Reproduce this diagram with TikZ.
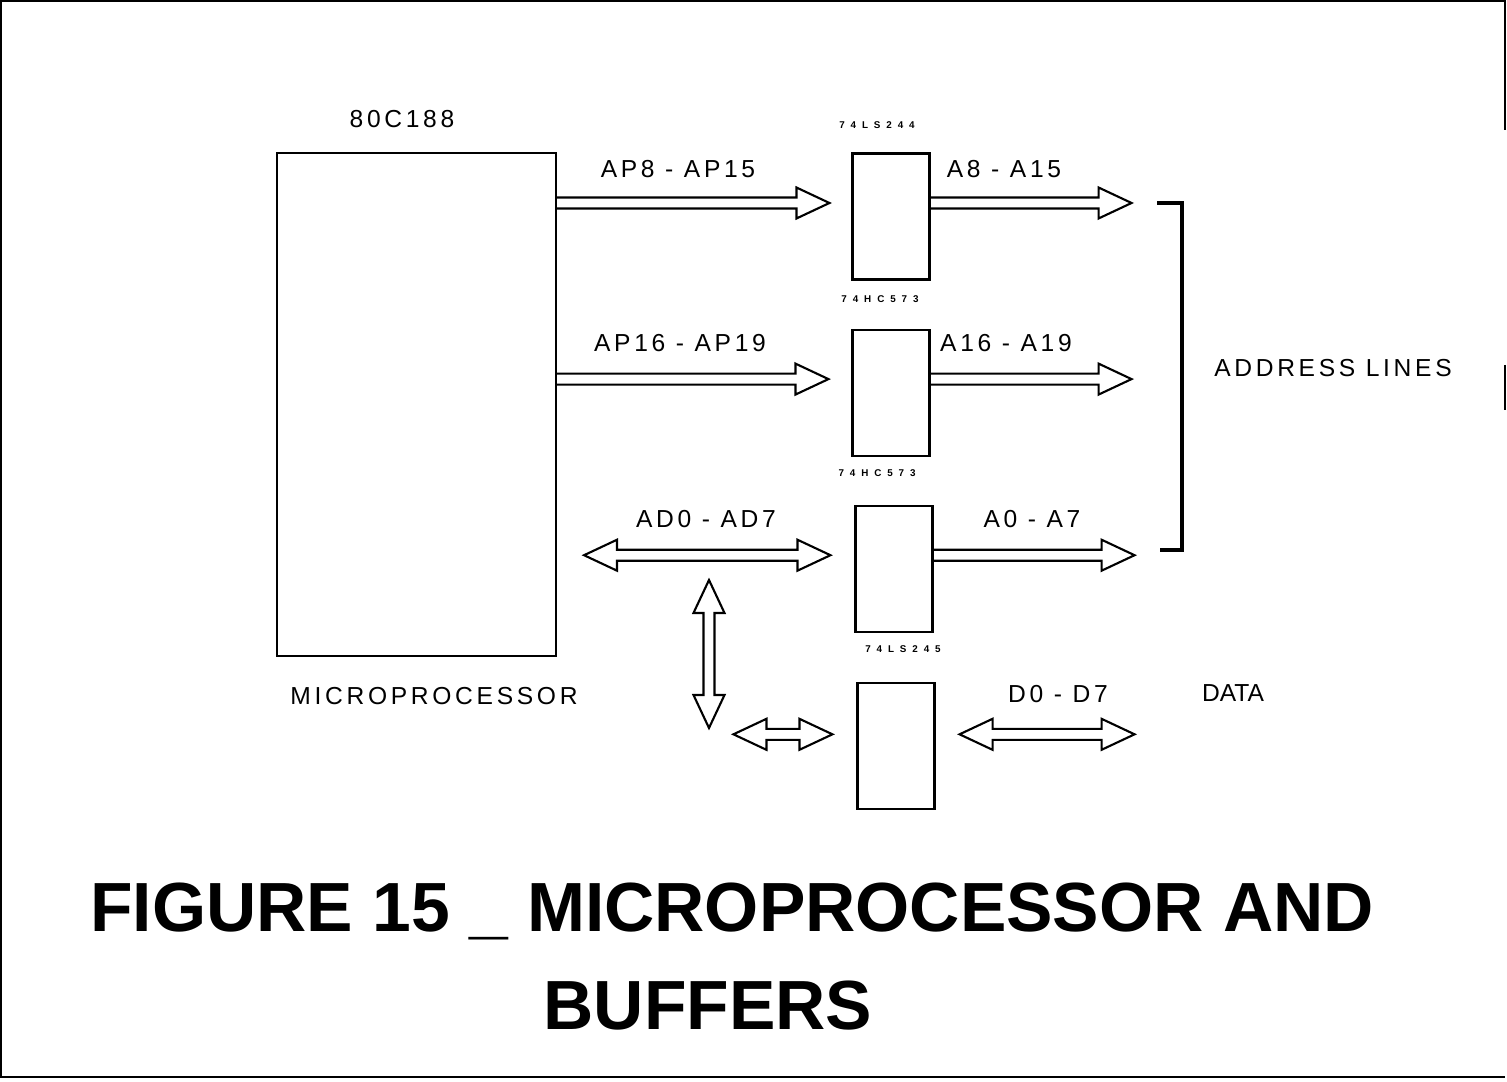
\documentclass[tikz,border=0pt]{standalone}
\usepackage{fontspec}
\setmainfont{Liberation Sans}
\newfontfamily\lblfont[LetterSpace=15]{Liberation Sans}
\newfontfamily\chipfont[LetterSpace=60]{Liberation Sans}
\usetikzlibrary{positioning, calc}

\begin{document}
\begin{tikzpicture}[
    x=0.1mm, y=-0.1mm,
    line width=0.6pt,
    every node/.style={inner sep=0pt},
    block/.style={rectangle, draw, minimum width=27.9mm, minimum height=50.3mm},
    buffer/.style={rectangle, draw, minimum width=7.7mm, minimum height=12.6mm},
    chip/.style={font=\chipfont\bfseries\fontsize{2.8}{3}\selectfont, anchor=base},
    lbl/.style={font=\lblfont\fontsize{7}{8}\selectfont, anchor=base},
    title/.style={font=\bfseries\fontsize{19.8}{24}\selectfont, anchor=base},
    bracket/.style={line width=1.1pt},
    bus/.style={line join=miter, to path={
        let \p1=(\tikztostart), \p2=(\tikztotarget),
            \p3=($(\p2)!3.3mm!(\p1)$) in
        ($(\p1)!0.55mm!90:(\p2)$) -- ($(\p3)!0.55mm!90:(\p2)$)
        -- ($(\p3)!1.55mm!90:(\p2)$) -- (\p2)
        -- ($(\p3)!1.55mm!-90:(\p2)$) -- ($(\p3)!0.55mm!-90:(\p2)$)
        -- ($(\p1)!0.55mm!-90:(\p2)$)}},
    dbus/.style={line join=miter, to path={
        let \p1=(\tikztostart), \p2=(\tikztotarget),
            \p3=($(\p2)!3.3mm!(\p1)$), \p4=($(\p1)!3.3mm!(\p2)$) in
        ($(\p4)!0.55mm!90:(\p2)$) -- ($(\p3)!0.55mm!90:(\p2)$)
        -- ($(\p3)!1.55mm!90:(\p2)$) -- (\p2)
        -- ($(\p3)!1.55mm!-90:(\p2)$) -- ($(\p3)!0.55mm!-90:(\p2)$)
        -- ($(\p4)!0.55mm!-90:(\p2)$) -- ($(\p4)!1.55mm!-90:(\p2)$)
        -- (\p1) -- ($(\p4)!1.55mm!90:(\p2)$) -- cycle}},
]
    \useasboundingbox (0,0) rectangle (1507,1082);
    % --- page frame ---
    \draw (1505,130) -- (1505,1) -- (1,1) -- (1,1077) -- (1505,1077);
    \draw (1505,365) -- (1505,410);

    % --- processor ---
    \node[block] (mpu) at (416.5,404.5) {};
    \node[lbl] (cpuname) at (402,128) {80C188};
    \node[lbl] (cpulbl) at (434,705) {MICROPROCESSOR};

    % --- buffers ---
    \node[buffer] (b1) at (891,216.5) {};
    \node[buffer, below=4.8mm of b1] (b2) {};
    \node[buffer, below=4.8mm of b2, xshift=0.3mm] (b3) {};
    \node[buffer, below=4.9mm of b3, xshift=0.2mm] (b4) {};
    \node[chip] (c1) at (877,129) {74LS244};
    \node[chip] (c2) at (880,303) {74HC573};
    \node[chip] (c3) at (877,477) {74HC573};
    \node[chip] (c4) at (903,653) {74LS245};

    % --- bus rows ---
    \coordinate (r1) at ($(b1.center)+(0,-13.5)$);
    \coordinate (r2) at ($(b2.center)+(0,-13.5)$);
    \coordinate (r3) at ($(b3.center)+(0,-13.5)$);
    \coordinate (r4) at ($(b4.center)+(0,-11.5)$);
    \coordinate (adl) at ($(mpu.east |- r3)+(27,0)$);
    \coordinate (vt) at (709,580);
    \coordinate (vb) at (709,728);
    \coordinate (sl) at ($(b4.west |- r4)+(-123,0)$);

    % --- buses ---
    \draw[bus] (mpu.east |- r1) to ($(b1.west |- r1)+(-22,0)$);
    \draw[bus] (b1.east |- r1) to ($(b1.east |- r1)+(201,0)$);
    \draw[bus] (mpu.east |- r2) to ($(b2.west |- r2)+(-23,0)$);
    \draw[bus] (b2.east |- r2) to ($(b2.east |- r2)+(201,0)$);
    \draw[dbus] (adl) to ($(b3.west |- r3)+(-24,0)$);
    \draw[bus] (b3.east |- r3) to ($(b3.east |- r3)+(201,0)$);
    \draw[dbus] (vt) to (vb);
    \draw[dbus] (sl) to ($(b4.west |- r4)+(-24,0)$);
    \draw[dbus] ($(b4.east |- r4)+(24,0)$) to ($(b4.east |- r4)+(199,0)$);

    % --- bus labels ---
    \node[lbl] (l1) at (678,178) {AP8 - AP15};
    \node[lbl] (l2) at (1004,178) {A8 - A15};
    \node[lbl] (l3) at (680,352) {AP16 - AP19};
    \node[lbl] (l4) at (1006,352) {A16 - A19};
    \node[lbl] (l5) at (706,528) {AD0 - AD7};
    \node[lbl] (l6) at (1032,528) {A0 - A7};
    \node[lbl] (l7) at (1058,703) {D0 - D7};
    \node[font=\fontsize{7}{8}\selectfont, anchor=base] (data) at (1233,702) {DATA};

    % --- address bracket ---
    \draw[bracket] (1157,203) -- (1182,203) -- (1182,550) -- (1160,550);
    \node[lbl] (addr) at (1333,377) {ADDRESS LINES};

    % --- caption ---
    \node[title] (title1) at (732,932) {FIGURE 15 \_ MICROPROCESSOR AND};
    \node[title] (title2) at (708,1030) {BUFFERS};
\end{tikzpicture}
\end{document}
